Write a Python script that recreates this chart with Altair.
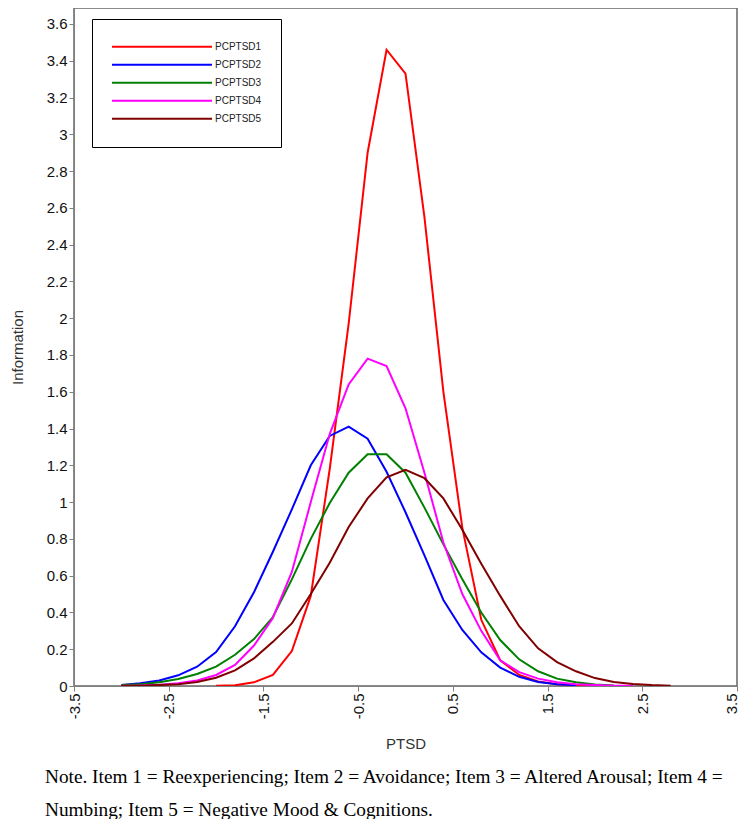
import altair as alt
import pandas as pd

theta = [-3.0, -2.8, -2.6, -2.4, -2.2, -2.0, -1.8, -1.6, -1.4, -1.2,
         -1.0, -0.8, -0.6, -0.4, -0.2, 0.0, 0.2, 0.4, 0.6, 0.8,
         1.0, 1.2, 1.4, 1.6, 1.8, 2.0, 2.2, 2.4, 2.6, 2.8]

series_names = ["PCPTSD1", "PCPTSD2", "PCPTSD3", "PCPTSD4", "PCPTSD5"]
series_colors = ["#ff0000", "#0000ff", "#008000", "#ff00ff", "#800000"]

pcptsd1 = [None, None, None, None, None, 0.001, 0.004, 0.02, 0.06, 0.19,
           0.49, 1.18, 1.97, 2.90, 3.46, 3.33, 2.55, 1.60, 0.86, 0.36,
           0.14, 0.06, 0.025, 0.01, 0.004, 0.001, None, None, None, None]
pcptsd2 = [0.006, 0.015, 0.03, 0.058, 0.105, 0.185, 0.325, 0.51, 0.73, 0.96,
           1.20, 1.36, 1.41, 1.345, 1.165, 0.945, 0.71, 0.468, 0.305, 0.183,
           0.10, 0.05, 0.022, 0.01, 0.004, None, None, None, None, None]
pcptsd3 = [0.005, 0.01, 0.02, 0.038, 0.065, 0.105, 0.17, 0.255, 0.375, 0.58,
           0.80, 0.995, 1.16, 1.26, 1.26, 1.16, 0.97, 0.77, 0.58, 0.40,
           0.25, 0.145, 0.08, 0.04, 0.02, 0.008, 0.003, None, None, None]
pcptsd4 = [0.002, 0.003, 0.007, 0.015, 0.03, 0.06, 0.115, 0.22, 0.37, 0.62,
           1.00, 1.37, 1.64, 1.78, 1.74, 1.51, 1.16, 0.78, 0.50, 0.30,
           0.14, 0.075, 0.04, 0.02, 0.01, 0.005, 0.002, 0.001, None, None]
pcptsd5 = [0.001, 0.002, 0.005, 0.01, 0.022, 0.045, 0.085, 0.15, 0.24, 0.34,
           0.50, 0.67, 0.865, 1.02, 1.135, 1.175, 1.13, 1.02, 0.85, 0.665,
           0.49, 0.325, 0.205, 0.13, 0.08, 0.043, 0.022, 0.011, 0.005, 0.002]

x_ticks = [-3.5, -2.5, -1.5, -0.5, 0.5, 1.5, 2.5, 3.5]
y_ticks = [0, 0.2, 0.4, 0.6, 0.8, 1, 1.2, 1.4, 1.6, 1.8, 2, 2.2, 2.4, 2.6,
           2.8, 3, 3.2, 3.4, 3.6]

note_lines = [
    "Note. Item 1 = Reexperiencing; Item 2 = Avoidance; Item 3 = Altered Arousal; Item 4 =",
    "Numbing; Item 5 = Negative Mood & Cognitions.",
]

rows = []
for name, vals in zip(series_names, [pcptsd1, pcptsd2, pcptsd3, pcptsd4, pcptsd5]):
    for t, v in zip(theta, vals):
        if v is not None:
            rows.append({"theta": t, "info": v, "item": name})
df = pd.DataFrame(rows)

FONT = "Liberation Sans"

chart = alt.Chart(df).mark_line(strokeWidth=2, clip=True).encode(
    x=alt.X(
        "theta:Q",
        scale=alt.Scale(domain=[-3.5, 3.5], nice=False, zero=False),
        axis=alt.Axis(values=x_ticks, title="PTSD", labelAngle=270,
                      labelExpr="'' + datum.value", grid=False,
                      labelFlush=False, labelOverlap=False,
                      labelOffset={"condition": {"test": "datum.value >= 3.5",
                                                 "value": -6},
                                   "value": 0},
                      titlePadding=18),
    ),
    y=alt.Y(
        "info:Q",
        scale=alt.Scale(domain=[0, 3.687], nice=False),
        axis=alt.Axis(values=y_ticks, title="Information",
                      labelExpr="'' + datum.value", grid=False,
                      labelFlush=False, labelOverlap=False,
                      titlePadding=21),
    ),
    color=alt.Color(
        "item:N",
        title=None,
        scale=alt.Scale(domain=series_names, range=series_colors),
        legend=alt.Legend(orient="none", legendX=18, legendY=11,
                          symbolType="stroke", symbolSize=10000,
                          symbolStrokeWidth=2, clipHeight=17.5,
                          padding=19, strokeColor="black", fillColor="white",
                          labelFont=FONT, labelFontSize=10, labelColor="#222",
                          labelOffset=2, rowPadding=0, direction="vertical"),
    ),
    detail="item:N",
).properties(
    width=663,
    height=678,
    autosize=alt.AutoSizeParams(type="none"),
    padding={"left": 66, "top": 0, "right": 4, "bottom": 133},
    title=alt.TitleParams(text=note_lines, orient="bottom", anchor="start",
                          frame="group", dx=-29, offset=16,
                          font="Liberation Serif", fontSize=19.3,
                          fontWeight="normal", color="black", lineHeight=33),
).configure_axis(
    domainColor="#808080", tickColor="#808080", tickSize=5,
    labelFont=FONT, labelFontSize=15, labelColor="#111", labelPadding=2,
    titleFont=FONT, titleFontSize=15, titleFontWeight="normal",
    titleColor="#333",
).configure_view(stroke="#666666", strokeWidth=1.5)

chart.save("out.html", embed_options={"renderer": "svg", "actions": False})
